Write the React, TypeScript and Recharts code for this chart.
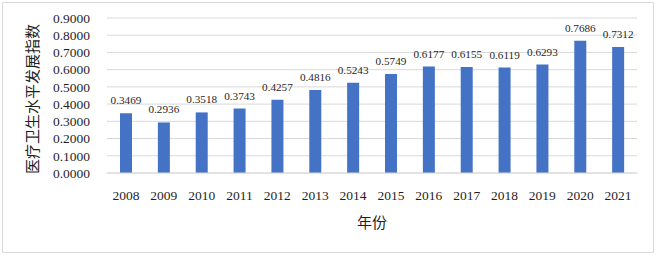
import { BarChart, Bar, XAxis, YAxis, CartesianGrid, LabelList } from 'recharts'

const years = ['2008', '2009', '2010', '2011', '2012', '2013', '2014', '2015', '2016', '2017', '2018', '2019', '2020', '2021']
const index = [0.3469, 0.2936, 0.3518, 0.3743, 0.4257, 0.4816, 0.5243, 0.5749, 0.6177, 0.6155, 0.6119, 0.6293, 0.7686, 0.7312]
const yTicks = [0, 0.1, 0.2, 0.3, 0.4, 0.5, 0.6, 0.7, 0.8, 0.9]

const data = years.map((y, i) => ({ year: y, value: index[i] }))

const font = 'Times New Roman, Liberation Serif, Noto Sans CJK SC, serif'
const ink = '#1f1f1f'

const YTitle = () => (
  <text
    x={33}
    y={99}
    transform="rotate(-90 33 99)"
    textAnchor="middle"
    dominantBaseline="central"
    style={{ fontFamily: font, fontSize: 15, fill: ink }}
  >
    医疗卫生水平发展指数
  </text>
)

export default function App() {
  return (
    <div style={{ position: 'absolute', left: 0, top: 0, width: 658, height: 257, background: '#fff', fontFamily: font }}>
      <div
        style={{
          position: 'absolute',
          left: 2,
          top: 2,
          width: 650,
          height: 249,
          border: '1px solid #d9d9d9',
        }}
      />
      <BarChart
        width={658}
        height={257}
        data={data}
        margin={{ top: 18, right: 21, bottom: 54, left: 0 }}
        style={{ position: 'absolute', left: 0, top: 0, fontFamily: font }}
      >
        <CartesianGrid vertical={false} stroke="#d9d9d9" />
        <XAxis
          dataKey="year"
          stroke="#d9d9d9"
          tickLine={false}
          tickMargin={11}
          height={30}
          interval={0}
          tick={{ fill: ink, fontSize: 13.5, style: { fontFamily: font } }}
          label={{ value: '年份', position: 'bottom', offset: 14, fill: ink, fontSize: 15, style: { fontFamily: font } }}
        />
        <YAxis
          domain={[0, 0.9]}
          ticks={yTicks}
          width={107}
          interval={0}
          axisLine={false}
          tickLine={false}
          tickMargin={11}
          tickFormatter={(v: number) => v.toFixed(4)}
          tick={{ fill: ink, fontSize: 13.5, style: { fontFamily: font } }}
          label={{ content: YTitle }}
        />
        <Bar dataKey="value" fill="#4472c4" barSize={12} isAnimationActive={false}>
          <LabelList
            dataKey="value"
            position="top"
            offset={9}
            formatter={(v: number) => v.toFixed(4)}
            style={{ fill: ink, fontSize: 11.2, fontFamily: font }}
          />
        </Bar>
      </BarChart>
    </div>
  )
}
